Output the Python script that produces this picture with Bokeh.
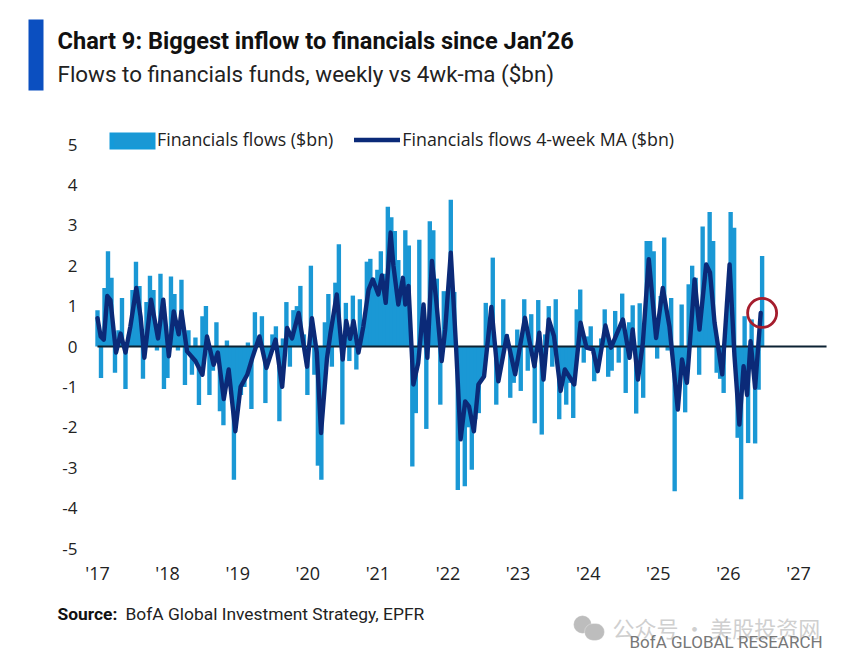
from bokeh.plotting import figure
from bokeh.models import (ColumnDataSource, Range1d, FixedTicker, Label, BoxAnnotation, Legend, LegendItem)
from bokeh.embed import file_html
from bokeh.resources import INLINE

TITLE = "Chart 9: Biggest inflow to financials since Jan\u201926"
SUBTITLE = "Flows to financials funds, weekly vs 4wk-ma ($bn)"
SOURCE_HEAD = "Source:"
SOURCE_TEXT = "BofA Global Investment Strategy, EPFR"
BRAND = "BofA GLOBAL RESEARCH"
WATERMARK = "\u516c\u4f17\u53f7 \u00b7 \u7f8e\u80a1\u6295\u8d44\u7f51"

year_ticks = list(range(2017, 2028))
year_labels = ["'17","'18","'19","'20","'21","'22","'23","'24","'25","'26","'27"]
value_ticks = [5,4,3,2,1,0,-1,-2,-3,-4,-5]
value_labels = ["5","4","3","2","1","0","-1","-2","-3","-4","-5"]

first_obs = 2017.0
obs_step = 0.0499

flows = [
 .9,-.78,1.45,2.36,1.7,-.65,.4,1.2,-1.05,.3,
 1.4,2.1,1.5,-.8,1.1,1.75,1.4,-.1,1.8,-1.05,
 -.78,1.73,1.3,-.1,1.65,-.95,.4,-.7,.22,-1.45,
 .75,1.0,-1.2,-.6,.6,-1.6,-1.95,.15,-.9,-3.3,
 -1.5,-1.2,-1.0,.1,-1.55,.85,.2,.75,-1.4,-.3,
 .3,.5,-1.85,.2,1.1,-.5,.9,1.0,1.5,.3,
 -1.2,2.0,-.7,-2.95,-3.3,.6,1.3,-.5,1.58,2.53,
 -1.93,1.08,-.36,1.26,-.57,1.17,.4,2.1,2.17,1.7,
 1.9,2.36,1.8,3.46,3.2,2.86,2.14,1.5,2.88,2.5,
 -2.97,-1.65,2.64,.5,-2.04,3.1,2.88,1.68,-1.44,1.37,
 .9,3.63,1.35,-3.55,-2.0,-3.46,-2.0,-3.05,-1.8,-1.65,
 -.8,1.08,.3,2.2,-1.44,-.4,1.17,.3,-1.27,-.9,
 .42,-1.1,1.17,-.6,.8,-1.9,1.15,-2.18,.3,1.0,
 -.5,1.17,-1.8,-.9,-1.44,-.9,-1.77,.92,1.41,-.4,
 .25,.5,-.86,-.6,.2,.92,-.75,-.6,.88,-.4,
 1.31,-1.15,.6,1.02,-1.66,1.07,-1.27,2.61,2.61,2.36,
 -.3,1.25,2.7,-.1,1.2,-3.58,-.6,1.04,-1.63,1.54,
 2.0,1.7,-.7,2.97,1.9,3.33,2.61,-.65,-.8,-1.15,
 1.12,3.33,2.94,-2.26,-3.78,.75,-2.39,.67,-2.4,-1.07,
 2.24,
]

ma_obs = [0,.9,1.8,2.8,3.7,4.7,5.3,6.6,8,9.4,11.1,12.3,13.4,15.3,17.3,18.8,20.4,21.8,23.2,24,
 25.6,28,30,31.3,33.2,34.4,36.1,37.5,39.4,40.9,42.8,44.2,46.3,48.3,50.9,52.8,54.2,55.6,57.5,59.9,
 61.3,62.7,63.9,65.6,66.6,68.4,70.1,71.1,72.2,73.2,74.6,76,77.5,78.7,80.3,81.3,82.4,83.8,84.6,86,
 87.3,88,88.9,90.3,91.7,93.2,94.3,95.6,96.8,98.4,99.4,101,102.5,103.8,105.1,106.2,107.6,108.9,110.5,112.6,
 114.6,117,119.4,122.2,124.9,126.3,127.5,129,130.5,132.4,133.6,136.3,138.1,139.8,141.6,143,145.2,146.8,150.2,152.1,
 153,154.5,155.9,157.6,159.7,161.6,163.5,165.9,167.1,168.5,170.7,172.1,174,175.1,176.4,178.6,180.7,182.1,183.5,184.7,
 185.7,186.7,188,189.6]
ma_vals = [.7,.25,.17,1.25,1.15,.33,-.15,.32,-.15,.5,1.45,.75,-.28,1.16,.2,1.16,-.24,.87,.3,.87,
 -.12,-.36,-.7,.25,-.45,-.15,-1.3,-.57,-2.1,-1.0,-.7,-.3,.25,-.53,.17,-1.0,.46,.2,.83,-.5,
 .7,-.15,-2.14,-.3,.33,1.29,-.32,.63,.19,.63,-.15,.5,1.41,1.66,1.29,1.76,1.08,2.82,2.0,1.04,
 1.7,1.04,1.5,-.94,-.4,1.04,-.28,2.12,1.17,-.36,.42,2.32,0,-2.3,-1.36,-1.48,-2.1,-.94,-.74,.98,
 -.86,.26,-.69,.71,-.49,.34,-.82,.67,.26,-1.1,-.57,-.94,.59,-.03,-.07,-.61,.52,-.03,.67,-.28,
 .42,-.82,.09,2.16,.21,1.45,.5,-1.56,-.32,-.9,1.66,.42,2.03,1.83,.59,-.69,2.03,-.24,-1.93,-.49,
 -1.2,.13,-1.02,.83]

flow_dates = [first_obs + i * obs_step for i in range(len(flows))]
ma_dates = [first_obs + i * obs_step for i in ma_obs]

BAR = "#1a98d5"
NAVY = "#0b2a78"
W, H = 842, 655
PX_YEAR, PX_UNIT = 70.1, 40.4
LEFT, TOP = 97, 144

p = figure(width=W, height=H, output_backend="svg", toolbar_location=None,
           x_range=Range1d(2017 - LEFT / PX_YEAR, 2017 + (W - LEFT) / PX_YEAR),
           y_range=Range1d(5 - (H - TOP) / PX_UNIT, 5 + TOP / PX_UNIT),
           min_border=0, outline_line_color=None, background_fill_color="white")
p.xgrid.visible = False
p.ygrid.visible = False

src = ColumnDataSource(dict(x=flow_dates, top=flows))
area = p.varea(ma_dates, y1=ma_vals, y2=[0] * len(ma_vals), fill_color=BAR)
bars = p.vbar(x="x", top="top", bottom=0, width=obs_step * 1.25, source=src,
              fill_color=BAR, line_color=None)
p.line([2017, 2027.4], [0, 0], line_color="#0c2233", line_width=2)
mal = p.line(ma_dates, ma_vals, line_color=NAVY, line_width=4.4, line_join="round", line_cap="round")
p.scatter([flow_dates[-1]], [ma_vals[-1]], size=29, marker="circle", fill_color=None,
          line_color="#a51d2d", line_width=2.8)

ax = p.xaxis[0]
ax.fixed_location = -5
ax.ticker = FixedTicker(ticks=year_ticks)
ax.major_label_overrides = dict(zip(year_ticks, year_labels))
ax.axis_line_color = None
ax.major_tick_line_color = None
ax.minor_tick_line_color = None
ax.major_label_text_font = "Open Sans"
ax.major_label_text_font_size = "18px"
ax.major_label_text_color = "#222222"
ax.major_label_standoff = 6

ay = p.yaxis[0]
ay.fixed_location = 2017
ay.ticker = FixedTicker(ticks=value_ticks)
ay.major_label_overrides = dict(zip(value_ticks, value_labels))
ay.axis_line_color = None
ay.major_tick_line_color = None
ay.minor_tick_line_color = None
ay.major_label_text_font = "Open Sans"
ay.major_label_text_font_size = "17px"
ay.major_label_text_color = "#222222"
ay.major_label_standoff = 14

legend = Legend(items=[LegendItem(label="Financials flows ($bn)", renderers=[area]),
                       LegendItem(label="Financials flows 4-week MA ($bn)", renderers=[mal])],
                orientation="horizontal", location=(109, H - 151), background_fill_alpha=0,
                border_line_color=None, glyph_width=46, glyph_height=17, label_standoff=2, label_height=17,
                spacing=21, padding=0, margin=0, label_text_font="Open Sans",
                label_text_font_size="17.8px", label_text_color="#222222")
p.add_layout(legend, "center")
p.add_layout(BoxAnnotation(left=109, right=155, top=132, bottom=149, left_units="canvas", right_units="canvas",
                           top_units="canvas", bottom_units="canvas", fill_color="#149ad9", fill_alpha=1,
                           line_color=None))

def put(text, x, y, size, font="Roboto", style="normal", color="#111111"):
    p.add_layout(Label(x=x, y=H - y, x_units="screen", y_units="screen", text=text,
                       text_font=font, text_font_size=f"{size}px", text_font_style=style,
                       text_color=color, text_baseline="middle", text_align="left"))

p.add_layout(BoxAnnotation(left=28, right=43, top=19, bottom=90, left_units="canvas", right_units="canvas",
                           top_units="canvas", bottom_units="canvas", fill_color="#0b4fc0", fill_alpha=1,
                           line_color=None))
put(TITLE, 57, 40, 23.6, style="bold")
put(SUBTITLE, 57, 73, 22.4, color="#222222")
put(SOURCE_HEAD, 57, 613, 17.4, style="bold")
put(SOURCE_TEXT, 125, 613, 17.4, color="#222222")
put(WATERMARK, 612, 626, 22, font="Noto Sans CJK SC", color="#cfcfcf")
put(BRAND, 629, 641, 17, color="#777777")

for l, r, t, b in [(573, 591, 615, 633), (584, 604, 623, 640)]:
    p.add_layout(BoxAnnotation(left=l, right=r, top=t, bottom=b, left_units="canvas",
                               right_units="canvas", top_units="canvas", bottom_units="canvas",
                               fill_color="#bdbdbd", fill_alpha=1, line_color="white", line_width=1,
                               border_radius=10))

open("out.html", "w").write(file_html(p, INLINE))
